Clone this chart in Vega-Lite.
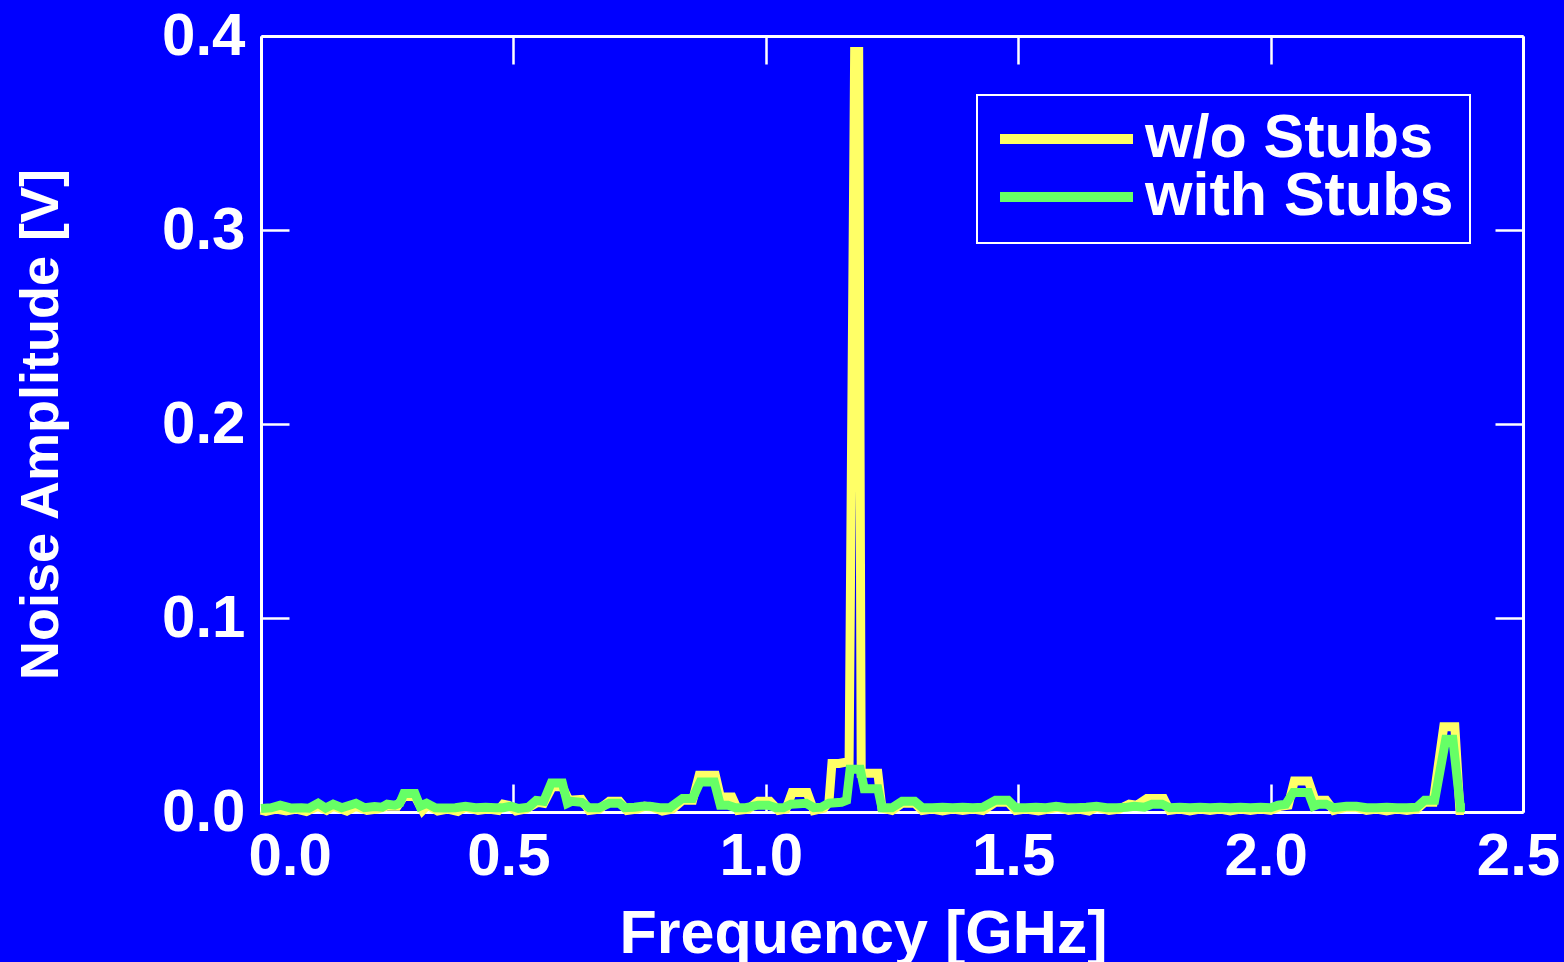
{
  "$schema": "https://vega.github.io/schema/vega-lite/v6.json",
  "width": 1262,
  "height": 776,
  "autosize": "none",
  "padding": {"left": 261, "top": 36, "right": 41, "bottom": 150},
  "background": "#0000ff",
  "config": {
    "view": {"stroke": null, "fill": "#0000ff"},
    "font": "Liberation Sans",
    "legend": {"strokeWidth": 2},
    "axis": {
      "grid": false,
      "domainColor": "white",
      "domainWidth": 3,
      "tickColor": "white",
      "tickWidth": 2.5,
      "tickSize": -28,
      "labelColor": "white",
      "labelFont": "Liberation Sans",
      "labelFontSize": 60,
      "labelFontWeight": "bold",
      "titleColor": "white",
      "titleFont": "Liberation Sans",
      "titleFontWeight": "bold",
      "zindex": 1
    }
  },
  "data": {"values": [
    {"f":0.000,"v":0.0010,"s":"w/o Stubs"},{"f":0.010,"v":0.0003,"s":"w/o Stubs"},{"f":0.030,"v":0.0015,"s":"w/o Stubs"},{"f":0.050,"v":0.0005,"s":"w/o Stubs"},{"f":0.070,"v":0.0015,"s":"w/o Stubs"},{"f":0.090,"v":0.0003,"s":"w/o Stubs"},{"f":0.113,"v":0.0030,"s":"w/o Stubs"},{"f":0.130,"v":0.0008,"s":"w/o Stubs"},{"f":0.143,"v":0.0030,"s":"w/o Stubs"},{"f":0.170,"v":0.0005,"s":"w/o Stubs"},{"f":0.188,"v":0.0030,"s":"w/o Stubs"},{"f":0.210,"v":0.0008,"s":"w/o Stubs"},{"f":0.230,"v":0.0015,"s":"w/o Stubs"},{"f":0.250,"v":0.0030,"s":"w/o Stubs"},{"f":0.270,"v":0.0030,"s":"w/o Stubs"},{"f":0.283,"v":0.0080,"s":"w/o Stubs"},{"f":0.305,"v":0.0080,"s":"w/o Stubs"},{"f":0.320,"v":0.0008,"s":"w/o Stubs"},{"f":0.330,"v":0.0035,"s":"w/o Stubs"},{"f":0.350,"v":0.0005,"s":"w/o Stubs"},{"f":0.370,"v":0.0015,"s":"w/o Stubs"},{"f":0.390,"v":0.0003,"s":"w/o Stubs"},{"f":0.405,"v":0.0025,"s":"w/o Stubs"},{"f":0.430,"v":0.0008,"s":"w/o Stubs"},{"f":0.450,"v":0.0015,"s":"w/o Stubs"},{"f":0.470,"v":0.0008,"s":"w/o Stubs"},{"f":0.480,"v":0.0040,"s":"w/o Stubs"},{"f":0.490,"v":0.0035,"s":"w/o Stubs"},{"f":0.505,"v":0.0005,"s":"w/o Stubs"},{"f":0.525,"v":0.0015,"s":"w/o Stubs"},{"f":0.548,"v":0.0050,"s":"w/o Stubs"},{"f":0.560,"v":0.0045,"s":"w/o Stubs"},{"f":0.577,"v":0.0130,"s":"w/o Stubs"},{"f":0.597,"v":0.0130,"s":"w/o Stubs"},{"f":0.610,"v":0.0060,"s":"w/o Stubs"},{"f":0.635,"v":0.0065,"s":"w/o Stubs"},{"f":0.650,"v":0.0008,"s":"w/o Stubs"},{"f":0.670,"v":0.0015,"s":"w/o Stubs"},{"f":0.690,"v":0.0055,"s":"w/o Stubs"},{"f":0.710,"v":0.0055,"s":"w/o Stubs"},{"f":0.725,"v":0.0008,"s":"w/o Stubs"},{"f":0.745,"v":0.0015,"s":"w/o Stubs"},{"f":0.760,"v":0.0030,"s":"w/o Stubs"},{"f":0.775,"v":0.0025,"s":"w/o Stubs"},{"f":0.795,"v":0.0005,"s":"w/o Stubs"},{"f":0.815,"v":0.0015,"s":"w/o Stubs"},{"f":0.835,"v":0.0060,"s":"w/o Stubs"},{"f":0.855,"v":0.0060,"s":"w/o Stubs"},{"f":0.868,"v":0.0190,"s":"w/o Stubs"},{"f":0.900,"v":0.0190,"s":"w/o Stubs"},{"f":0.910,"v":0.0077,"s":"w/o Stubs"},{"f":0.933,"v":0.0077,"s":"w/o Stubs"},{"f":0.945,"v":0.0008,"s":"w/o Stubs"},{"f":0.965,"v":0.0015,"s":"w/o Stubs"},{"f":0.985,"v":0.0055,"s":"w/o Stubs"},{"f":1.008,"v":0.0055,"s":"w/o Stubs"},{"f":1.025,"v":0.0008,"s":"w/o Stubs"},{"f":1.040,"v":0.0015,"s":"w/o Stubs"},{"f":1.052,"v":0.0100,"s":"w/o Stubs"},{"f":1.082,"v":0.0100,"s":"w/o Stubs"},{"f":1.095,"v":0.0008,"s":"w/o Stubs"},{"f":1.115,"v":0.0020,"s":"w/o Stubs"},{"f":1.125,"v":0.0050,"s":"w/o Stubs"},{"f":1.131,"v":0.0250,"s":"w/o Stubs"},{"f":1.145,"v":0.0250,"s":"w/o Stubs"},{"f":1.165,"v":0.0260,"s":"w/o Stubs"},{"f":1.176,"v":0.3920,"s":"w/o Stubs"},{"f":1.184,"v":0.3920,"s":"w/o Stubs"},{"f":1.189,"v":0.0200,"s":"w/o Stubs"},{"f":1.205,"v":0.0200,"s":"w/o Stubs"},{"f":1.222,"v":0.0200,"s":"w/o Stubs"},{"f":1.230,"v":0.0020,"s":"w/o Stubs"},{"f":1.250,"v":0.0008,"s":"w/o Stubs"},{"f":1.270,"v":0.0045,"s":"w/o Stubs"},{"f":1.295,"v":0.0045,"s":"w/o Stubs"},{"f":1.310,"v":0.0008,"s":"w/o Stubs"},{"f":1.330,"v":0.0015,"s":"w/o Stubs"},{"f":1.350,"v":0.0005,"s":"w/o Stubs"},{"f":1.370,"v":0.0015,"s":"w/o Stubs"},{"f":1.390,"v":0.0008,"s":"w/o Stubs"},{"f":1.410,"v":0.0015,"s":"w/o Stubs"},{"f":1.430,"v":0.0008,"s":"w/o Stubs"},{"f":1.455,"v":0.0050,"s":"w/o Stubs"},{"f":1.480,"v":0.0050,"s":"w/o Stubs"},{"f":1.495,"v":0.0008,"s":"w/o Stubs"},{"f":1.515,"v":0.0015,"s":"w/o Stubs"},{"f":1.540,"v":0.0005,"s":"w/o Stubs"},{"f":1.560,"v":0.0015,"s":"w/o Stubs"},{"f":1.580,"v":0.0025,"s":"w/o Stubs"},{"f":1.600,"v":0.0008,"s":"w/o Stubs"},{"f":1.620,"v":0.0015,"s":"w/o Stubs"},{"f":1.640,"v":0.0005,"s":"w/o Stubs"},{"f":1.655,"v":0.0025,"s":"w/o Stubs"},{"f":1.680,"v":0.0008,"s":"w/o Stubs"},{"f":1.700,"v":0.0015,"s":"w/o Stubs"},{"f":1.720,"v":0.0040,"s":"w/o Stubs"},{"f":1.735,"v":0.0035,"s":"w/o Stubs"},{"f":1.755,"v":0.0070,"s":"w/o Stubs"},{"f":1.788,"v":0.0070,"s":"w/o Stubs"},{"f":1.800,"v":0.0008,"s":"w/o Stubs"},{"f":1.820,"v":0.0015,"s":"w/o Stubs"},{"f":1.840,"v":0.0005,"s":"w/o Stubs"},{"f":1.860,"v":0.0015,"s":"w/o Stubs"},{"f":1.880,"v":0.0008,"s":"w/o Stubs"},{"f":1.900,"v":0.0015,"s":"w/o Stubs"},{"f":1.920,"v":0.0005,"s":"w/o Stubs"},{"f":1.940,"v":0.0015,"s":"w/o Stubs"},{"f":1.960,"v":0.0008,"s":"w/o Stubs"},{"f":1.980,"v":0.0015,"s":"w/o Stubs"},{"f":2.000,"v":0.0008,"s":"w/o Stubs"},{"f":2.020,"v":0.0030,"s":"w/o Stubs"},{"f":2.035,"v":0.0035,"s":"w/o Stubs"},{"f":2.047,"v":0.0160,"s":"w/o Stubs"},{"f":2.075,"v":0.0160,"s":"w/o Stubs"},{"f":2.088,"v":0.0060,"s":"w/o Stubs"},{"f":2.110,"v":0.0060,"s":"w/o Stubs"},{"f":2.125,"v":0.0008,"s":"w/o Stubs"},{"f":2.150,"v":0.0025,"s":"w/o Stubs"},{"f":2.170,"v":0.0025,"s":"w/o Stubs"},{"f":2.190,"v":0.0008,"s":"w/o Stubs"},{"f":2.210,"v":0.0015,"s":"w/o Stubs"},{"f":2.230,"v":0.0005,"s":"w/o Stubs"},{"f":2.250,"v":0.0015,"s":"w/o Stubs"},{"f":2.270,"v":0.0008,"s":"w/o Stubs"},{"f":2.290,"v":0.0015,"s":"w/o Stubs"},{"f":2.305,"v":0.0050,"s":"w/o Stubs"},{"f":2.322,"v":0.0050,"s":"w/o Stubs"},{"f":2.343,"v":0.0440,"s":"w/o Stubs"},{"f":2.365,"v":0.0440,"s":"w/o Stubs"},{"f":2.375,"v":0.0008,"s":"w/o Stubs"},{"f":2.383,"v":0.0008,"s":"w/o Stubs"},

    {"f":0.000,"v":0.0018,"s":"with Stubs"},{"f":0.020,"v":0.0022,"s":"with Stubs"},{"f":0.038,"v":0.0035,"s":"with Stubs"},{"f":0.060,"v":0.0020,"s":"with Stubs"},{"f":0.080,"v":0.0022,"s":"with Stubs"},{"f":0.095,"v":0.0020,"s":"with Stubs"},{"f":0.113,"v":0.0045,"s":"with Stubs"},{"f":0.128,"v":0.0020,"s":"with Stubs"},{"f":0.143,"v":0.0040,"s":"with Stubs"},{"f":0.160,"v":0.0022,"s":"with Stubs"},{"f":0.188,"v":0.0045,"s":"with Stubs"},{"f":0.205,"v":0.0022,"s":"with Stubs"},{"f":0.225,"v":0.0028,"s":"with Stubs"},{"f":0.240,"v":0.0025,"s":"with Stubs"},{"f":0.250,"v":0.0040,"s":"with Stubs"},{"f":0.265,"v":0.0035,"s":"with Stubs"},{"f":0.275,"v":0.0045,"s":"with Stubs"},{"f":0.283,"v":0.0095,"s":"with Stubs"},{"f":0.305,"v":0.0095,"s":"with Stubs"},{"f":0.315,"v":0.0030,"s":"with Stubs"},{"f":0.328,"v":0.0045,"s":"with Stubs"},{"f":0.345,"v":0.0022,"s":"with Stubs"},{"f":0.365,"v":0.0020,"s":"with Stubs"},{"f":0.385,"v":0.0022,"s":"with Stubs"},{"f":0.405,"v":0.0030,"s":"with Stubs"},{"f":0.425,"v":0.0022,"s":"with Stubs"},{"f":0.445,"v":0.0025,"s":"with Stubs"},{"f":0.465,"v":0.0022,"s":"with Stubs"},{"f":0.480,"v":0.0022,"s":"with Stubs"},{"f":0.495,"v":0.0030,"s":"with Stubs"},{"f":0.510,"v":0.0018,"s":"with Stubs"},{"f":0.530,"v":0.0025,"s":"with Stubs"},{"f":0.545,"v":0.0060,"s":"with Stubs"},{"f":0.560,"v":0.0055,"s":"with Stubs"},{"f":0.575,"v":0.0150,"s":"with Stubs"},{"f":0.597,"v":0.0150,"s":"with Stubs"},{"f":0.607,"v":0.0045,"s":"with Stubs"},{"f":0.615,"v":0.0055,"s":"with Stubs"},{"f":0.635,"v":0.0050,"s":"with Stubs"},{"f":0.650,"v":0.0022,"s":"with Stubs"},{"f":0.670,"v":0.0022,"s":"with Stubs"},{"f":0.690,"v":0.0045,"s":"with Stubs"},{"f":0.710,"v":0.0045,"s":"with Stubs"},{"f":0.720,"v":0.0022,"s":"with Stubs"},{"f":0.740,"v":0.0025,"s":"with Stubs"},{"f":0.755,"v":0.0030,"s":"with Stubs"},{"f":0.770,"v":0.0030,"s":"with Stubs"},{"f":0.790,"v":0.0022,"s":"with Stubs"},{"f":0.810,"v":0.0022,"s":"with Stubs"},{"f":0.835,"v":0.0070,"s":"with Stubs"},{"f":0.855,"v":0.0070,"s":"with Stubs"},{"f":0.870,"v":0.0155,"s":"with Stubs"},{"f":0.898,"v":0.0155,"s":"with Stubs"},{"f":0.910,"v":0.0035,"s":"with Stubs"},{"f":0.925,"v":0.0035,"s":"with Stubs"},{"f":0.940,"v":0.0022,"s":"with Stubs"},{"f":0.960,"v":0.0022,"s":"with Stubs"},{"f":0.985,"v":0.0035,"s":"with Stubs"},{"f":1.005,"v":0.0035,"s":"with Stubs"},{"f":1.020,"v":0.0022,"s":"with Stubs"},{"f":1.035,"v":0.0022,"s":"with Stubs"},{"f":1.050,"v":0.0040,"s":"with Stubs"},{"f":1.080,"v":0.0045,"s":"with Stubs"},{"f":1.095,"v":0.0022,"s":"with Stubs"},{"f":1.110,"v":0.0025,"s":"with Stubs"},{"f":1.125,"v":0.0045,"s":"with Stubs"},{"f":1.150,"v":0.0050,"s":"with Stubs"},{"f":1.160,"v":0.0060,"s":"with Stubs"},{"f":1.167,"v":0.0220,"s":"with Stubs"},{"f":1.187,"v":0.0220,"s":"with Stubs"},{"f":1.195,"v":0.0120,"s":"with Stubs"},{"f":1.222,"v":0.0120,"s":"with Stubs"},{"f":1.230,"v":0.0022,"s":"with Stubs"},{"f":1.250,"v":0.0022,"s":"with Stubs"},{"f":1.270,"v":0.0055,"s":"with Stubs"},{"f":1.295,"v":0.0055,"s":"with Stubs"},{"f":1.310,"v":0.0022,"s":"with Stubs"},{"f":1.330,"v":0.0022,"s":"with Stubs"},{"f":1.350,"v":0.0025,"s":"with Stubs"},{"f":1.370,"v":0.0022,"s":"with Stubs"},{"f":1.390,"v":0.0025,"s":"with Stubs"},{"f":1.410,"v":0.0022,"s":"with Stubs"},{"f":1.430,"v":0.0025,"s":"with Stubs"},{"f":1.455,"v":0.0060,"s":"with Stubs"},{"f":1.480,"v":0.0060,"s":"with Stubs"},{"f":1.495,"v":0.0022,"s":"with Stubs"},{"f":1.515,"v":0.0022,"s":"with Stubs"},{"f":1.535,"v":0.0025,"s":"with Stubs"},{"f":1.555,"v":0.0022,"s":"with Stubs"},{"f":1.575,"v":0.0030,"s":"with Stubs"},{"f":1.595,"v":0.0022,"s":"with Stubs"},{"f":1.615,"v":0.0022,"s":"with Stubs"},{"f":1.635,"v":0.0025,"s":"with Stubs"},{"f":1.655,"v":0.0030,"s":"with Stubs"},{"f":1.675,"v":0.0022,"s":"with Stubs"},{"f":1.695,"v":0.0022,"s":"with Stubs"},{"f":1.715,"v":0.0025,"s":"with Stubs"},{"f":1.730,"v":0.0030,"s":"with Stubs"},{"f":1.750,"v":0.0025,"s":"with Stubs"},{"f":1.765,"v":0.0040,"s":"with Stubs"},{"f":1.785,"v":0.0040,"s":"with Stubs"},{"f":1.800,"v":0.0022,"s":"with Stubs"},{"f":1.820,"v":0.0025,"s":"with Stubs"},{"f":1.840,"v":0.0022,"s":"with Stubs"},{"f":1.860,"v":0.0025,"s":"with Stubs"},{"f":1.880,"v":0.0022,"s":"with Stubs"},{"f":1.900,"v":0.0025,"s":"with Stubs"},{"f":1.920,"v":0.0022,"s":"with Stubs"},{"f":1.940,"v":0.0025,"s":"with Stubs"},{"f":1.960,"v":0.0022,"s":"with Stubs"},{"f":1.980,"v":0.0025,"s":"with Stubs"},{"f":2.000,"v":0.0022,"s":"with Stubs"},{"f":2.015,"v":0.0035,"s":"with Stubs"},{"f":2.030,"v":0.0040,"s":"with Stubs"},{"f":2.045,"v":0.0100,"s":"with Stubs"},{"f":2.075,"v":0.0100,"s":"with Stubs"},{"f":2.085,"v":0.0030,"s":"with Stubs"},{"f":2.095,"v":0.0040,"s":"with Stubs"},{"f":2.110,"v":0.0040,"s":"with Stubs"},{"f":2.125,"v":0.0022,"s":"with Stubs"},{"f":2.150,"v":0.0030,"s":"with Stubs"},{"f":2.170,"v":0.0030,"s":"with Stubs"},{"f":2.190,"v":0.0022,"s":"with Stubs"},{"f":2.210,"v":0.0022,"s":"with Stubs"},{"f":2.230,"v":0.0025,"s":"with Stubs"},{"f":2.250,"v":0.0022,"s":"with Stubs"},{"f":2.270,"v":0.0022,"s":"with Stubs"},{"f":2.290,"v":0.0025,"s":"with Stubs"},{"f":2.305,"v":0.0060,"s":"with Stubs"},{"f":2.325,"v":0.0060,"s":"with Stubs"},{"f":2.347,"v":0.0375,"s":"with Stubs"},{"f":2.361,"v":0.0375,"s":"with Stubs"},{"f":2.376,"v":0.0022,"s":"with Stubs"},{"f":2.385,"v":0.0022,"s":"with Stubs"}
  ]},
  "layer": [
    {
      "mark": {"type": "line", "strokeWidth": 9, "strokeJoin": "miter", "strokeCap": "butt", "clip": false},
      "encoding": {
        "x": {"field": "f", "type": "quantitative", "scale": {"domain": [0, 2.5], "nice": false, "zero": false},
          "axis": {"orient": "bottom", "values": [0, 0.5, 1, 1.5, 2, 2.5], "format": ".1f", "labelPadding": 43,
            "title": "Frequency [GHz]", "titleFontSize": 61, "titleX": 602, "titleY": 140, "titleBaseline": "alphabetic", "titleAlign": "center",
            "labelAlign": {"condition": {"test": "datum.value == 0", "value": "left"}, "value": "center"}, "labelOffset": {"condition": {"test": "datum.value == 0", "value": -13}, "value": -5}}},
        "y": {"field": "v", "type": "quantitative", "scale": {"domain": [0, 0.4], "nice": false},
          "axis": {"orient": "left", "values": [0, 0.1, 0.2, 0.3, 0.4], "format": ".1f", "labelPadding": 44,
            "title": "Noise Amplitude [V]", "titleFontSize": 54, "titleX": -204, "titleY": 388, "titleAngle": -90, "titleBaseline": "alphabetic", "titleAlign": "center"}},
        "color": {"field": "s", "type": "nominal",
          "scale": {"domain": ["w/o Stubs", "with Stubs"], "range": ["#ffff66", "#66ff66"]},
          "legend": {"title": null, "orient": "none", "legendX": 716, "legendY": 59,
            "symbolType": "stroke", "symbolSize": 17689, "symbolStrokeWidth": 10, "symbolOffset": 2,
            "clipHeight": 56, "rowPadding": -4, "labelLimit": 0,
            "labelFontSize": 61, "labelFontWeight": "bold", "labelColor": "white", "labelFont": "Liberation Sans",
            "strokeColor": "white", "fillColor": "#0000ff", "padding": 16, "labelOffset": 7}}
      }
    },
    {
      "mark": {"type": "line", "strokeOpacity": 0},
      "encoding": {
        "x": {"field": "f", "type": "quantitative", "axis": {"orient": "top", "values": [0, 0.5, 1, 1.5, 2, 2.5], "labels": false, "title": null}},
        "y": {"field": "v", "type": "quantitative", "axis": {"orient": "right", "values": [0, 0.1, 0.2, 0.3, 0.4], "labels": false, "title": null}},
        "detail": {"field": "s"}
      }
    }
  ],
  "resolve": {"axis": {"x": "independent", "y": "independent"}}
}
